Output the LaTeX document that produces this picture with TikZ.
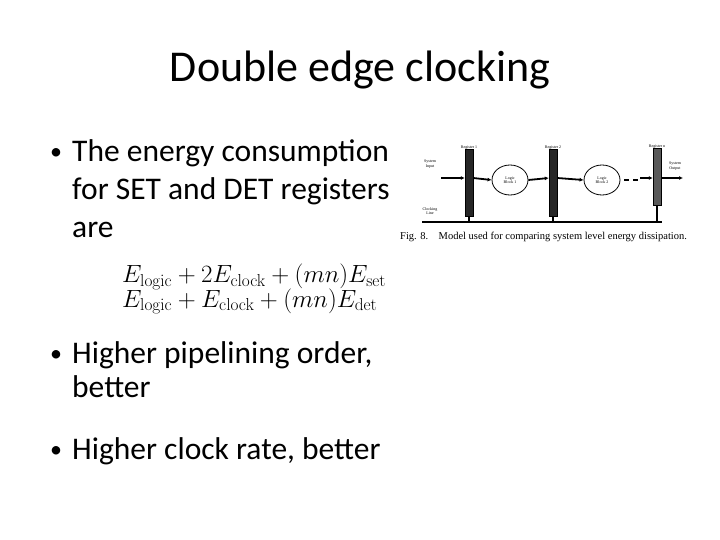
\documentclass[tikz,border=0pt]{standalone}
\usepackage[no-math]{fontspec}
\setmainfont{Carlito}
\newfontfamily\capfont{Liberation Serif}
\usetikzlibrary{arrows.meta,positioning,shapes.geometric}
\begin{document}
\begin{tikzpicture}[x=1pt,y=-1pt,
  reg/.style={fill=black!85,draw=black,minimum width=8pt,inner sep=0},
  lb/.style={ellipse,draw,line width=0.8pt,minimum width=36pt,minimum height=30pt,inner sep=0,font=\fontsize{4}{4.5}\selectfont\capfont,align=center},
  tiny/.style={font=\fontsize{4}{4.5}\selectfont\capfont,align=center,inner sep=0.5pt},
  bul/.style={font=\fontsize{31.5}{37.5}\selectfont,anchor=base west,inner sep=0},
  dot/.style={font=\fontsize{24}{24}\selectfont,anchor=base west,inner sep=0},
  ar/.style={-{Latex[length=4pt,width=4pt]},line width=1.8pt}]
\useasboundingbox (0,0) rectangle (720,540);
\node[font=\fontsize{44}{48}\selectfont,anchor=base] (title) at (360,82) {Double edge clocking};
\node[dot] (b1) at (50,160) {•};
\node[bul] (t1a) at (72,162) {The energy consumption};
\node[bul] (t1b) at (72,199.5) {for SET and DET registers};
\node[bul] (t1c) at (72,237) {are};
\node[font=\fontsize{23}{22}\selectfont,align=left,anchor=west,inner sep=0] (eq) at (122,289)
 {$E_{\mathrm{logic}}+2E_{\mathrm{clock}}+(mn)E_{\mathrm{set}}$\\[-2pt]$E_{\mathrm{logic}}+E_{\mathrm{clock}}+(mn)E_{\mathrm{det}}$};
\node[dot] (b2) at (50,361) {•};
\node[bul] (t2a) at (72,363) {Higher pipelining order,};
\node[bul] (t2b) at (72,397) {better};
\node[dot] (b3) at (50,457) {•};
\node[bul] (t3) at (72,459) {Higher clock rate, better};
% figure
\node[reg,minimum height=67pt] (r1) at (469,183) {};
\node[reg,minimum height=67pt] (r2) at (553,183) {};
\node[reg,minimum height=57pt,fill=black!65] (rn) at (657,177) {};
\node[tiny,anchor=south] (l1) at ([yshift=-1pt]r1.north) {Register 1};
\node[tiny,anchor=south] (l2) at ([yshift=-1pt]r2.north) {Register 2};
\node[tiny,anchor=south] (ln) at ([yshift=-1pt]rn.north) {Register n};
\node[lb] (e1) at (510,180) {Logic\\Block 1};
\node[lb] (e2) at (602,180) {Logic\\Block 2};
\node[tiny] (in) at (430,164) {System\\Input};
\node[tiny] (out) at (675,166) {System\\Output};
\node[tiny] (ck) at (430,211) {Clocking\\Line};
\coordinate (cs) at (422,222);
\coordinate (ce) at (662,222);
\coordinate (a0) at (441,178);
\coordinate (d2) at (640,178);
\coordinate (oe) at (683,178);
\draw[line width=2pt] (cs) -- (ce);
\draw[line width=1.5pt] (r1.south) -- (r1.south |- cs) (r2.south) -- (r2.south |- cs) (rn.south) -- (rn.south |- cs);
\draw[ar] (a0) -- (r1.west |- a0);
\draw[ar] (r1.east |- a0) -- (e1.west);
\draw[ar] (e1.east) -- (r2.west |- a0);
\draw[ar] (r2.east |- a0) -- (e2.west);
\draw[line width=1.8pt] (e2.east) ++(4,0) -- ++(5,0) ++(4,0) -- ++(5,0);
\draw[ar] (d2) -- (rn.west |- d2);
\draw[ar] (rn.east |- oe) -- (oe);
\node[font=\fontsize{10.5}{11}\selectfont\capfont,anchor=west,inner sep=0] (cap) at (400,237) {Fig. 8.\quad Model used for comparing system level energy dissipation.};
\end{tikzpicture}
\end{document}
